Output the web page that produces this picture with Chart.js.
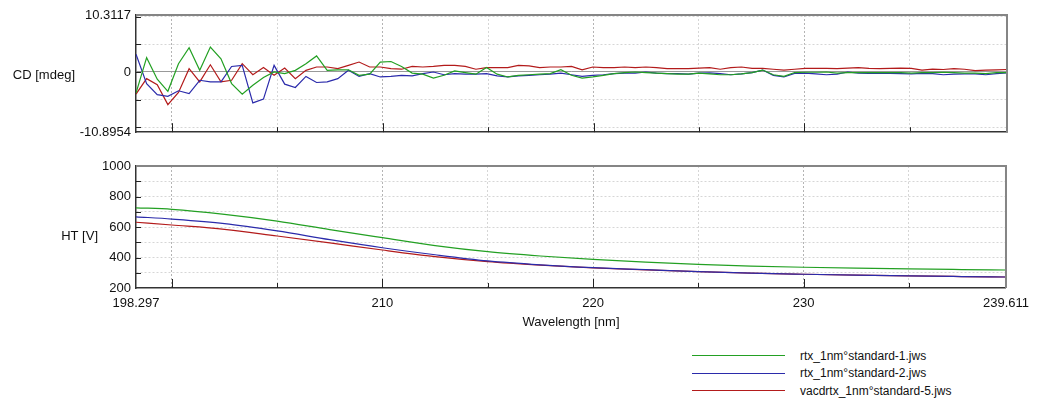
<!DOCTYPE html>
<html>
<head>
<meta charset="utf-8">
<script src="https://cdn.jsdelivr.net/npm/chart.js@4.4.0/dist/chart.umd.min.js"></script>
<style>
  body { margin: 0; background: #fff; }
  #page { position: relative; width: 1037px; height: 400px; font-family: "Liberation Sans", Arial, sans-serif; }
  #cd { position: absolute; left: 0; top: 0; }
  #ht { position: absolute; left: 0; top: 150px; }
  #legend { position: absolute; left: 692px; top: 347px; font-size: 12px; color: #111; }
  .row { display: flex; align-items: center; height: 17.5px; }
  .swatch { width: 93px; height: 0; border-top: 1px solid; margin-right: 15px; }
</style>
</head>
<body>
<div id="page">
  <canvas id="cd" width="1037" height="145"></canvas>
  <canvas id="ht" width="1037" height="190"></canvas>
  <div id="legend"></div>
</div>
<script>
// files shown in the legend
const fileNames = ['rtx_1nm°standard-1.jws', 'rtx_1nm°standard-2.jws', 'vacdrtx_1nm°standard-5.jws'];
const lineColors = ['#23a023', '#2b2bab', '#b31b1b'];

// wavelength range (nm)
const wlMin = 198.297;
const wlMax = 239.611;
const cdPoints = 83;

// CD [mdeg], one value per sample from wlMin to wlMax
const cdSample1 = [-3.8, 2.6, -1.3, -3.5, 1.5, 4.4, 0.3, 4.5, 2.4, -2.1, -4.0, -2.4, -1.0,
  0, -0.3, 0.3, 1.5, 2.9, 0.3, 0.4, 0.4, -0.6, -0.4, 1.8, 1.9,
  1.0, -0.2, -0.4, -1.1, -0.6, 0.2, -0.1, -0.4, 0.8, -0.4, -0.9, -0.6, -0.5, -0.4, -0.3, 0.4, -0.6, -1.1, -0.9, -0.6, -0.3, -0.1, 0, -0.1, -0.2, -0.3, -0.4, -0.4,
  -0.2, -0.35, -0.5, -0.5, -0.35, -0.1, 0.35, -0.5, -0.8, -0.1, -0.05, -0.05, 0, -0.2, -0.1, -0.1, -0.1, -0.1, -0.1, -0.1, -0.2, -0.1, -0.1, -0.05, -0.1, -0.2, -0.2, -0.3, -0.1, -0.1];
const cdSample2 = [3.2, -2.1, -4.1, -4.4, -3.4, -3.9, -1.5, -1.8, -1.8, 1.0, 1.2, -5.6, -4.9,
  1.2, -2.2, -2.8, -0.8, -1.9, -1.8, -1.2, 0.3, -0.8, -0.3, -0.9, -0.8,
  -0.6, -0.7, -0.3, 0, -0.5, -0.3, -0.4, -0.4, -0.3, -0.7, -0.9, -0.7, -0.6, -0.5, -0.4, -0.2, -0.5, -0.8, -0.6, -0.5, -0.3, -0.2, -0.2, 0, -0.2, -0.3, -0.3, -0.4,
  -0.2, -0.15, -0.3, -0.5, -0.35, -0.1, 0.35, -0.6, -0.9, -0.25, -0.2, -0.35, -0.5, -0.4, 0, -0.2, -0.25, -0.25, -0.25, -0.3, -0.35, -0.25, -0.3, -0.5, -0.4, -0.35, -0.35, -0.5, -0.3, -0.15];
const cdSample5 = [-4.0, -1.2, -2.3, -5.9, -3.7, 0.6, -1.8, 1.3, -1.8, -1.5, 1.5, -0.5, 0.8,
  -0.6, 0.7, -1.2, 0.3, 0.9, 0.9, 0.6, 1.2, 1.8, 0.9, 0.9, 0.6,
  0.5, 1.0, 0.9, 1.0, 1.2, 1.2, 1.0, 0.5, 0.8, 0.8, 0.8, 1.2, 1.1, 0.8, 0.9, 0.9, 1.0, 0.4, 0.9, 0.8, 0.8, 0.9, 0.8, 0.9, 0.8, 0.6, 0.6, 0.6,
  0.7, 0.8, 0.5, 0.8, 0.9, 0.65, 0.65, 0.5, 0.35, 0.5, 0.65, 0.65, 0.65, 0.6, 0.7, 0.8, 0.65, 0.6, 0.65, 0.7, 0.65, 0.35, 0.5, 0.45, 0.6, 0.5, 0.25, 0.35, 0.4, 0.45];

// HT [V]
const htWavelengths = [198.297, 200, 202.5, 205, 207.5, 210, 212.5, 215, 217.5, 220, 222.5, 225, 227.5, 230, 232.5, 235, 237.5, 239.611];
const htSample1 = [726, 716, 683, 639, 583, 530, 478, 438, 410, 388, 370, 355, 344, 336, 330, 325, 321, 318];
const htSample2 = [667, 652, 622, 574, 517, 464, 418, 378, 352, 333, 320, 307, 297, 290, 284, 279, 275, 272];
const htSample5 = [631, 613, 585, 541, 496, 449, 406, 373, 350, 332, 319, 307, 297, 290, 284, 279, 275, 272];

// axis ticks
const xGridTicks = [198.297, 200, 205, 210, 215, 220, 225, 230, 235, 239.611];
const xLabelTicks = [198.297, 210, 220, 230, 239.611];
const cdMin = -10.8954, cdMax = 10.3117;
const cdGridTicks = [-10.8954, -10, -5, 0, 5, 10, 10.3117];
const cdLabelTicks = [-10.8954, 0, 10.3117];
const htMin = 200, htMax = 1000;
const htLabelTicks = [200, 400, 600, 800, 1000];

const FONT = '"Liberation Sans", Arial, sans-serif';
Chart.defaults.font.family = FONT;
Chart.defaults.font.size = 13;
Chart.defaults.color = '#111';

const cdStep = (wlMax - wlMin) / (cdPoints - 1);
const cdWl = cdSample1.map((_, i) => wlMin + i * cdStep);

const frame = {
  id: 'frame',
  afterDraw(chart, args, opts) {
    const {ctx, chartArea: a, scales} = chart;
    ctx.save();
    ctx.strokeStyle = '#858585';
    ctx.lineWidth = 2;
    ctx.beginPath();
    ctx.moveTo(a.left, a.top);
    ctx.lineTo(a.right, a.top);
    ctx.lineTo(a.right, a.bottom);
    ctx.stroke();
    ctx.strokeStyle = '#222';
    ctx.lineWidth = 1;
    scales.x.ticks.forEach(t => {
      if (t.value <= scales.x.min || t.value >= scales.x.max) return;
      const x = Math.round(scales.x.getPixelForValue(t.value)) + 0.5;
      const len = t.value % 10 === 0 ? 9 : 5;
      ctx.beginPath(); ctx.moveTo(x, a.bottom); ctx.lineTo(x, a.bottom - len); ctx.stroke();
    });
    scales.y.ticks.forEach(t => {
      if (t.value <= scales.y.min || t.value >= scales.y.max) return;
      const y = Math.round(scales.y.getPixelForValue(t.value)) + 0.5;
      ctx.beginPath(); ctx.moveTo(a.left, y); ctx.lineTo(a.left + 5, y); ctx.stroke();
    });
    ctx.font = '13px ' + FONT;
    ctx.fillStyle = '#111';
    ctx.textAlign = 'right';
    ctx.textBaseline = 'middle';
    ctx.fillText(opts.text, a.left - opts.gap, (a.top + a.bottom) / 2 + opts.dy);
    ctx.restore();
  }
};
Chart.register(frame);

const clear = 'rgba(0,0,0,0)';
function xScale(showLabels) {
  return {
    type: 'linear',
    min: wlMin,
    max: wlMax,
    afterBuildTicks: s => { s.ticks = xGridTicks.map(v => ({value: v})); },
    afterFit: s => { s.height = showLabels ? 52 : 0; },
    ticks: {
      display: showLabels,
      autoSkip: false,
      maxRotation: 0,
      padding: 8,
      callback: v => xLabelTicks.includes(v) ? String(v) : ''
    },
    grid: {
      drawTicks: false,
      color: c => {
        const v = c.tick && c.tick.value;
        if (v === wlMin || v === wlMax) return clear;
        return v % 10 === 0 ? '#b4b4b4' : '#d6d6d6';
      }
    },
    border: {color: '#333', width: 1.5, dash: [2, 2]},
    title: {display: showLabels, text: 'Wavelength [nm]', padding: {top: 0, bottom: 10}}
  };
}

function series(values, xs, i, smooth) {
  return {
    label: fileNames[i],
    data: values.map((v, k) => ({x: xs[k], y: v})),
    borderColor: lineColors[i],
    borderWidth: 1.2,
    pointRadius: 0,
    tension: 0,
    cubicInterpolationMode: smooth ? 'monotone' : 'default'
  };
}

new Chart(document.getElementById('cd'), {
  type: 'line',
  data: {
    datasets: [
      series(cdSample1, cdWl, 0, false),
      series(cdSample2, cdWl, 1, false),
      series(cdSample5, cdWl, 2, false)
    ]
  },
  options: {
    responsive: false,
    animation: false,
    layout: {padding: {left: 0, right: 30, top: 15, bottom: 10}},
    plugins: {legend: {display: false}, tooltip: {enabled: false}, frame: {text: 'CD [mdeg]', gap: 61, dy: 2}},
    scales: {
      x: xScale(false),
      y: {
        min: cdMin,
        max: cdMax,
        afterBuildTicks: s => { s.ticks = cdGridTicks.map(v => ({value: v})); },
        afterFit: s => { s.width = 136; },
        ticks: {padding: 5, autoSkip: false, callback: v => cdLabelTicks.includes(v) ? String(v) : ''},
        grid: {
          drawTicks: false,
          color: c => {
            const v = c.tick && c.tick.value;
            if (v === cdMin || v === cdMax) return clear;
            return v === 0 ? '#999' : '#d6d6d6';
          }
        },
        border: {color: '#333', width: 1.5, dash: c => (c.tick && c.tick.value === 0) ? [] : [2, 2]}
      }
    }
  }
});

new Chart(document.getElementById('ht'), {
  type: 'line',
  data: {
    datasets: [
      series(htSample1, htWavelengths, 0, true),
      series(htSample2, htWavelengths, 1, true),
      series(htSample5, htWavelengths, 2, true)
    ]
  },
  options: {
    responsive: false,
    animation: false,
    layout: {padding: {left: 0, right: 30, top: 16, bottom: 0}},
    plugins: {legend: {display: false}, tooltip: {enabled: false}, frame: {text: 'HT [V]', gap: 38, dy: 9}},
    scales: {
      x: xScale(true),
      y: {
        min: htMin,
        max: htMax,
        afterFit: s => { s.width = 136; },
        ticks: {stepSize: 100, padding: 5, autoSkip: false, callback: v => htLabelTicks.includes(v) ? String(v) : ''},
        grid: {
          drawTicks: false,
          color: c => {
            const v = c.tick && c.tick.value;
            if (v === htMin || v === htMax) return clear;
            return '#d6d6d6';
          }
        },
        border: {color: '#333', width: 1.5, dash: [2, 2]}
      }
    }
  }
});

const legend = document.getElementById('legend');
fileNames.forEach((name, i) => {
  const row = document.createElement('div');
  row.className = 'row';
  const sw = document.createElement('span');
  sw.className = 'swatch';
  sw.style.borderColor = lineColors[i];
  const txt = document.createElement('span');
  txt.textContent = name;
  row.appendChild(sw);
  row.appendChild(txt);
  legend.appendChild(row);
});
</script>
</body>
</html>
